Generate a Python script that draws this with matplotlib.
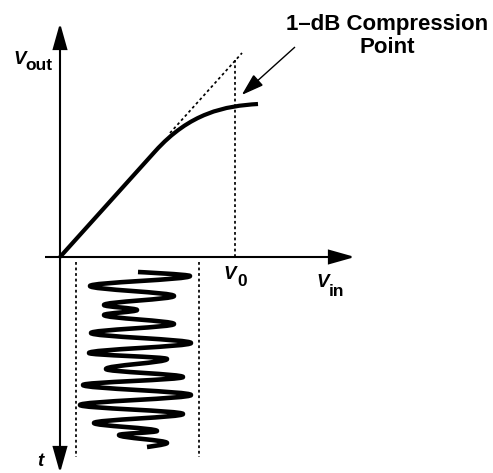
import matplotlib
matplotlib.use("Agg")
import matplotlib.pyplot as plt
from matplotlib.patches import FancyArrowPatch, PathPatch
from matplotlib.path import Path

FONT = "Liberation Sans"

# transfer curve: linear part, then compression (V_in, V_out)
lin_start = (0, 0)
knee = (95, 105.5)
comp_ctrl = [(130, 144.5), (165, 151)]
comp_end = (198, 153)

# ideal (uncompressed) extension and 1-dB point
ideal_x = [110, 182]
ideal_y = [124, 204]
v0 = 175
v0_top = 197

# input sinusoid below the axis: extremes of V_in vs time (t grows downward)
wave_vin = [78, 130, 30, 114, 44, 77, 44, 114, 31, 131, 29, 107, 46,
            123, 23, 131, 20, 123, 34, 97, 59, 107, 87]
wave_t = [15, 19, 29, 39, 48, 53, 58, 67, 76, 86, 96, 102, 112,
          120, 128, 138, 148, 157, 166, 174, 178, 186, 190]
swing_lo, swing_hi = 16, 139

fig = plt.figure(figsize=(4.93, 4.73), dpi=100)
ax = fig.add_axes([0, 0, 1, 1])
ax.set_xlim(-60, 433)
ax.set_ylim(-216, 257)
ax.axis("off")


def arrow(p0, p1, style, lw=1.5, hl=1.6, hw=0.45):
    a = FancyArrowPatch(p0, p1, arrowstyle=f"{style},head_length={hl},head_width={hw}",
                        mutation_scale=10, lw=lw, color="black",
                        shrinkA=0, shrinkB=0, joinstyle="miter", capstyle="butt")
    ax.add_patch(a)


# axes
arrow((0, -216), (0, 234), "<|-|>")
arrow((-15, 0), (295, 0), "-|>")

# dashed guides
dash = dict(color="black", lw=1.25, dashes=(1.6, 1.6))
ax.plot(ideal_x, ideal_y, **dash)
ax.plot([v0, v0], [0, v0_top], **dash)
ax.plot([swing_lo, swing_lo], [-5, -200], **dash)
ax.plot([swing_hi, swing_hi], [-5, -200], **dash)

# transfer curve
verts = [lin_start, knee, comp_ctrl[0], comp_ctrl[1], comp_end]
codes = [Path.MOVETO, Path.LINETO, Path.CURVE4, Path.CURVE4, Path.CURVE4]
ax.add_patch(PathPatch(Path(verts, codes), fill=False, lw=3.0,
                       capstyle="butt", joinstyle="round"))

# sinusoid (cubic segments with vertical tangents at the extremes)
pts = [(x, -t) for x, t in zip(wave_vin, wave_t)]
verts = [pts[0]]
codes = [Path.MOVETO]
k = 0.3642
for i in range(len(pts) - 1):
    (x0, y0), (x1, y1) = pts[i], pts[i + 1]
    dy = y1 - y0
    c1 = (x0, y0) if i == 0 else (x0, y0 + k * dy)
    c2 = (x1, y1) if i == len(pts) - 2 else (x1, y1 - k * dy)
    verts += [c1, c2, (x1, y1)]
    codes += [Path.CURVE4] * 3
ax.add_patch(PathPatch(Path(verts, codes), fill=False, lw=3.3,
                       capstyle="butt", joinstyle="round"))

# annotation arrow
arrow((235, 210), (181.7, 162), "-|>", lw=1.0, hl=1.4, hw=0.45)

# labels
bi = dict(family=FONT, weight="bold", style="italic", fontsize=13.5,
          va="baseline", ha="left")
bs = dict(family=FONT, weight="bold", fontsize=12.5, va="baseline", ha="left")
ax.text(-47, 192.5, "V", **bi)
ax.text(-35, 187.5, "out", **bs)
ax.text(163, -22, "V", **bi)
ax.text(177, -29, "0", **bs)
ax.text(256, -30, "V", **bi)
ax.text(269, -39, "in", **bs)
ax.text(-23, -209, "t", **bi)

tt = dict(family=FONT, weight="bold", fontsize=16, va="baseline", ha="center")
ax.text(327, 227, "1\u2013dB Compression", **tt)
ax.text(327, 204, "Point", **tt)

fig.savefig("out.png", dpi=100, facecolor="white")
